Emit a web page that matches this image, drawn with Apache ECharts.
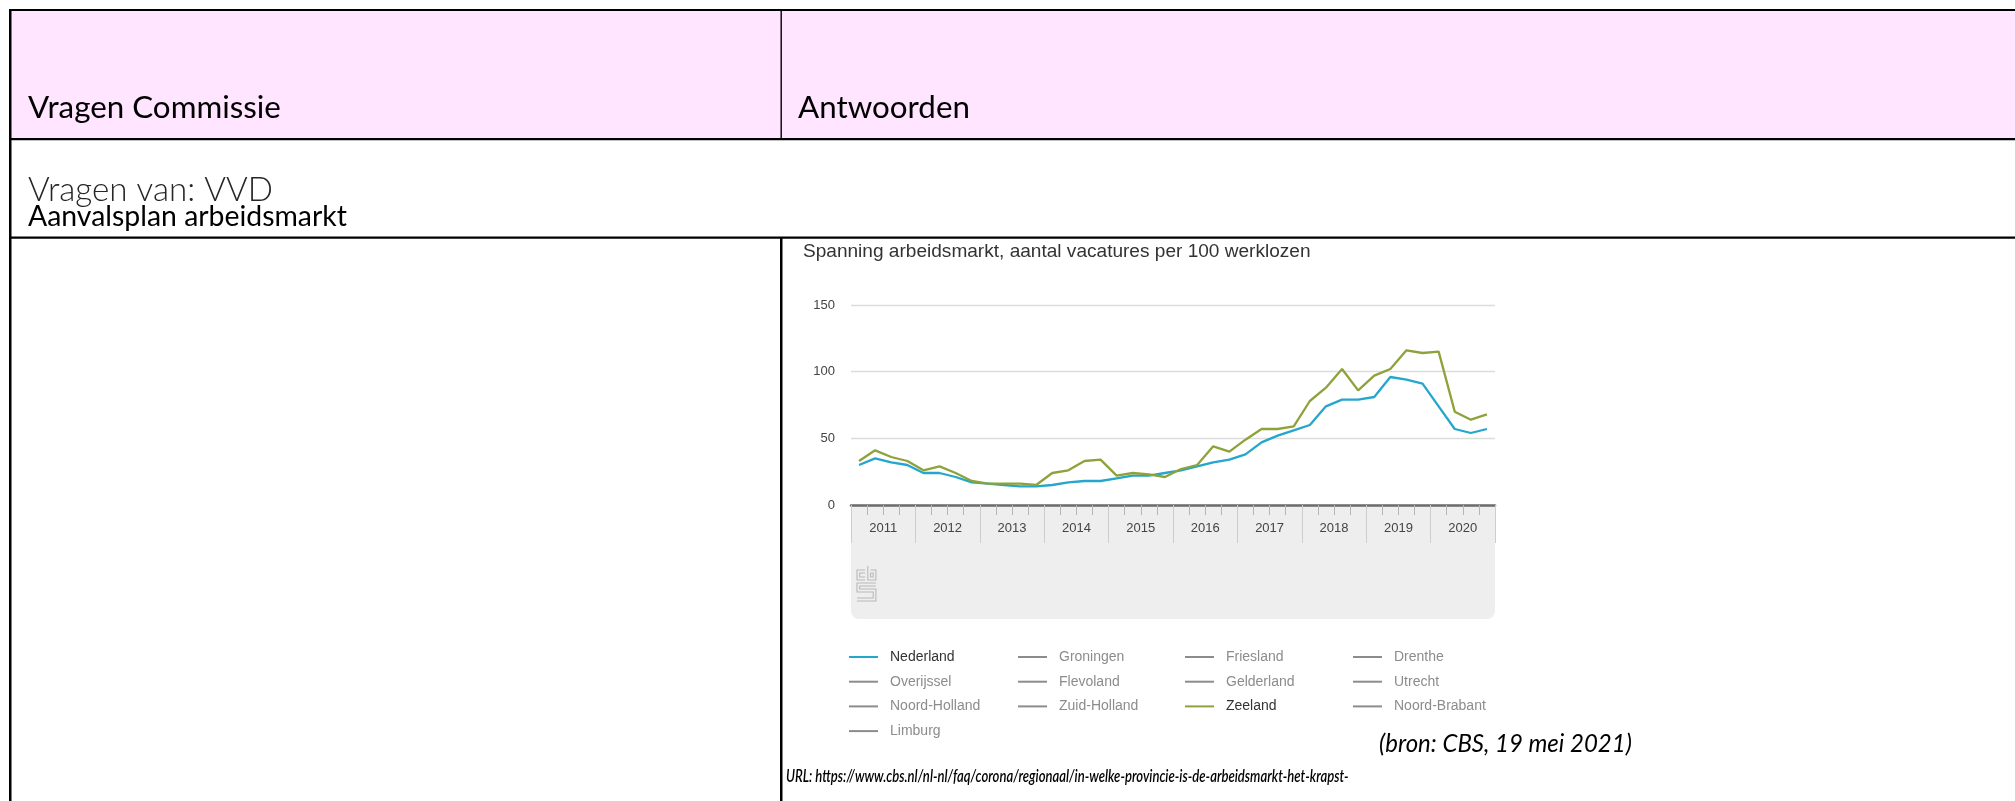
<!DOCTYPE html>
<html>
<head>
<meta charset="utf-8">
<script src="https://cdn.jsdelivr.net/npm/echarts@6/dist/echarts.min.js"></script>
<style>
html,body{margin:0;padding:0;background:#fff;overflow:hidden}
#main{width:2015px;height:801px}
</style>
</head>
<body>
<div id="main"></div>
<script>
// ---------- data ----------
const quarters = [
  '2011K1','2011K2','2011K3','2011K4','2012K1','2012K2','2012K3','2012K4',
  '2013K1','2013K2','2013K3','2013K4','2014K1','2014K2','2014K3','2014K4',
  '2015K1','2015K2','2015K3','2015K4','2016K1','2016K2','2016K3','2016K4',
  '2017K1','2017K2','2017K3','2017K4','2018K1','2018K2','2018K3','2018K4',
  '2019K1','2019K2','2019K3','2019K4','2020K1','2020K2','2020K3','2020K4'
];
const years = ['2011','2012','2013','2014','2015','2016','2017','2018','2019','2020'];
const yTicks = [0, 50, 100, 150];
const nederland = [30, 35, 32, 30, 24, 24, 21, 17, 16, 15, 14, 14, 15, 17, 18, 18, 20, 22, 22, 24,
                   26, 29, 32, 34, 38, 47, 52, 56, 60, 74, 79, 79, 81, 96, 94, 91, 74, 57, 54, 57];
const zeeland   = [33, 41, 36, 33, 26, 29, 24, 18, 16, 16, 16, 15, 24, 26, 33, 34, 22, 24, 23, 21,
                   27, 30, 44, 40, 49, 57, 57, 59, 78, 88, 102, 86, 97, 102, 116, 114, 115, 70, 64, 68];
const regions = ['Nederland','Groningen','Friesland','Drenthe','Overijssel','Flevoland','Gelderland',
                 'Utrecht','Noord-Holland','Zuid-Holland','Zeeland','Noord-Brabant','Limburg'];
const shownRegions = ['Nederland', 'Zeeland'];
const chartTitle = 'Spanning arbeidsmarkt, aantal vacatures per 100 werklozen';
const headerLeft = 'Vragen Commissie';
const headerRight = 'Antwoorden';
const askedBy = 'Vragen van: VVD';
const subject = 'Aanvalsplan arbeidsmarkt';
const sourceNote = '(bron: CBS, 19 mei 2021)';
const urlNote = 'URL: https://www.cbs.nl/nl-nl/faq/corona/regionaal/in-welke-provincie-is-de-arbeidsmarkt-het-krapst-';

// ---------- styling ----------
const valuesByRegion = { Nederland: nederland, Zeeland: zeeland };
const colorsByRegion = { Nederland: '#25a6cc', Zeeland: '#8da33a' };
const GRID = { left: 851, top: 305, width: 644, height: 200 };
const AX = 'Liberation Sans, Arial, Helvetica, sans-serif';
const CAL = 'Lato, Carlito, Calibri, sans-serif';

const ctx = document.createElement('canvas').getContext('2d');
function fit(text, family, weight, style, target) {
  ctx.font = style + ' ' + weight + ' 100px ' + family;
  return 100 * target / ctx.measureText(text).width;
}
// narrow: render taller and squeeze horizontally (Calibri is narrower than Lato)
function txt(text, x, baseline, size, family, weight, style, color, mid, narrow) {
  const k = narrow || 1;
  const s = size * k;
  return {
    type: 'text', x: x, y: baseline - (mid || 0.32) * s, scaleX: 1 / k, silent: true,
    style: { text: text, fontSize: s, fontFamily: family, fontWeight: weight,
             fontStyle: style, fill: color, verticalAlign: 'middle', align: 'left' }
  };
}
function bar(x, y, w, h, c) {
  return { type: 'rect', silent: true, shape: { x: x, y: y, width: w, height: h }, style: { fill: c || '#000' } };
}

const sHead = fit(headerLeft, CAL, 400, 'normal', 253);
const sAsk = fit(askedBy, CAL, 300, 'normal', 245);
const sSub = fit(subject, CAL, 400, 'normal', 319);
const sTitle = fit(chartTitle, AX, 400, 'normal', 508);
const sBron = fit(sourceNote, CAL, 400, 'italic', 253);
const sUrl = fit(urlNote, CAL, 600, 'italic', 563);

const graphics = [
  bar(11, 11, 2004, 127, '#ffe5ff'),
  bar(9, 9, 2006, 2),
  bar(9, 9, 2.5, 792),
  bar(9, 138, 2006, 2.3),
  bar(9, 236.5, 2006, 2.3),
  bar(780.5, 11, 1.4, 127),
  bar(780, 237.5, 2.5, 564),
  txt(headerLeft, 28, 118, sHead, CAL, 400, 'normal', '#000'),
  txt(headerRight, 798, 118, sHead, CAL, 400, 'normal', '#000'),
  txt(askedBy, 28, 201, sAsk, CAL, 300, 'normal', '#262626'),
  txt(subject, 28, 226, sSub, CAL, 400, 'normal', '#000'),
  txt(chartTitle, 803, 258, sTitle, AX, 400, 'normal', '#333', 0.31),
  txt(sourceNote, 1379, 752, sBron, CAL, 400, 'italic', '#000', 0.32, 1.06),
  txt(urlNote, 786, 782, sUrl, CAL, 600, 'italic', '#000', 0.32, 1.3),
  {
    type: 'rect', z: -1, silent: true,
    shape: { x: GRID.left, y: GRID.top + GRID.height + 1, width: GRID.width, height: 113, r: [0, 0, 8, 8] },
    style: { fill: '#eeeeee' }
  },
  {
    type: 'group', x: 857, y: 566, scaleX: 0.9, silent: true,
    children: [
      [[9,4],[0,4],[0,14],[9,14]],
      [[9,7],[3,7],[3,11],[9,11]],
      [[12,0],[12,14],[21,14],[21,4],[15,4]],
      [[15,7],[18,7],[18,11],[15,11],[15,7]],
      [[21,17],[0,17],[0,26],[18,26],[18,32],[0,32]],
      [[21,20],[3,20],[3,23],[21,23],[21,35],[0,35]]
    ].map(function (pts) {
      return { type: 'polyline', shape: { points: pts }, style: { stroke: '#b8b8b8', lineWidth: 1.2, fill: null } };
    })
  }
];

const legendCols = [0, 1, 2, 3].map(function (c) {
  return regions.filter(function (_, i) { return i % 4 === c; });
});
const legendLefts = [849, 1018, 1185, 1353];
const legends = legendCols.map(function (col, i) {
  const sel = {};
  col.forEach(function (n) { sel[n] = shownRegions.indexOf(n) >= 0; });
  return {
    orient: 'vertical', left: legendLefts[i], top: 649, padding: 0, itemGap: 8.7,
    itemWidth: 29, itemHeight: 2, icon: 'rect', data: col, selected: sel,
    inactiveColor: '#8c8c8c', inactiveBorderWidth: 0,
    itemStyle: { borderWidth: 0 },
    textStyle: { fontFamily: AX, fontSize: 14, color: '#333', lineHeight: 16, padding: [0, 0, 0, 7] }
  };
});

const series = regions.map(function (name) {
  return {
    name: name, type: 'line', xAxisIndex: 0, yAxisIndex: 0,
    data: valuesByRegion[name] || [],
    color: colorsByRegion[name] || '#8a8a8a',
    symbol: 'none', showSymbol: false, smooth: false,
    lineStyle: { width: 2.3 },
    emphasis: { disabled: true }
  };
});

const chart = echarts.init(document.getElementById('main'), null, { renderer: 'canvas' });
chart.setOption({
  animation: false,
  backgroundColor: '#ffffff',
  grid: { left: GRID.left, top: GRID.top, width: GRID.width, height: GRID.height },
  xAxis: [
    {
      type: 'category', data: quarters, position: 'bottom', boundaryGap: true,
      axisLine: { show: true, lineStyle: { color: '#6b6b6b', width: 2.5 } },
      axisTick: { show: true, interval: 0, length: 10, lineStyle: { color: '#b5b5b5', width: 1 } },
      axisLabel: { show: false }, splitLine: { show: false }
    },
    {
      type: 'category', data: years, position: 'bottom', boundaryGap: true,
      axisLine: { show: false },
      axisTick: { show: true, interval: 0, length: 38, lineStyle: { color: '#cdcdcd', width: 1 } },
      axisLabel: { show: true, interval: 0, margin: 17, fontFamily: AX, fontSize: 13, color: '#444' },
      splitLine: { show: false }
    }
  ],
  yAxis: {
    type: 'value', min: yTicks[0], max: yTicks[yTicks.length - 1], interval: yTicks[1] - yTicks[0],
    axisLine: { show: false }, axisTick: { show: false },
    axisLabel: { margin: 16, fontFamily: AX, fontSize: 13, color: '#444' },
    splitLine: { lineStyle: { color: '#dcdcdc', width: 1.3 } }
  },
  legend: legends,
  tooltip: { show: false },
  series: series,
  graphic: graphics
});
</script>
</body>
</html>
